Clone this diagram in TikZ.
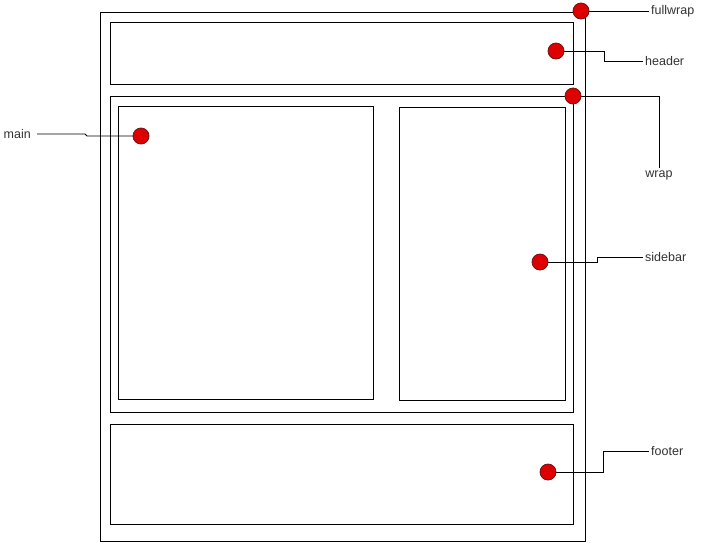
\documentclass[tikz,border=0pt]{standalone}
\usepackage{fontspec}
\setmainfont{Liberation Sans}
\definecolor{pinred}{RGB}{222,0,0}
\definecolor{pinrim}{RGB}{110,20,20}
\definecolor{tagtext}{RGB}{50,50,50}
\usetikzlibrary{backgrounds}
\tikzset{
  pane/.style={draw=black, line width=0.9pt},
  pin/.style={circle, draw=pinrim, line width=0.8pt, fill=pinred,
              minimum size=16pt, inner sep=0pt},
  tag/.style={text=tagtext, font=\fontsize{12.5}{14}\selectfont, inner sep=2pt},
  lead/.style={draw=black, line width=0.9pt},
}
\begin{document}
\begin{tikzpicture}[x=1pt, y=-1pt]
        \useasboundingbox (0,0) rectangle (720,542);
        % ===================== panes =====================
        \draw[pane] (100,12)  rectangle (585,541);
        \draw[pane] (110,22)  rectangle (573,84);
        \draw[pane] (110,96)  rectangle (573,412);
        \draw[pane] (118,106) rectangle (373,399);
        \draw[pane] (399,107) rectangle (565,400);
        \draw[pane] (110,424) rectangle (573,524);
        % ===================== pins =====================
        \node[pin] (fwpin) at (581,11)  {};
        \node[pin] (hdpin) at (556,51)  {};
        \node[pin] (wrpin) at (573,96)  {};
        \node[pin] (mnpin) at (141,136) {};
        \node[pin] (sbpin) at (540,262) {};
        \node[pin] (ftpin) at (548,472) {};
        % ===================== tags =====================
        \node[tag, anchor=west] (fwtag) at (649,11)  {fullwrap};
        \node[tag, anchor=west] (hdtag) at (643,61)  {header};
        \node[tag] (wrtag) at (659,175) {wrap};
        \node[tag, anchor=east, inner xsep=6pt] (mntag) at (37,134) {main};
        \node[tag, anchor=west] (sbtag) at (643,257) {sidebar};
        \node[tag, anchor=west] (fttag) at (649,451) {footer};
        % ===================== leads =====================
        \begin{scope}[on background layer]
          \draw[lead] (fwpin.center) -- (fwtag.west);
          \draw[lead] (hdpin.center) -- ++(48,0) |- (hdtag.west);
          \draw[lead] (wrpin.center) -| (wrtag.north);
          \draw[lead] (mntag.east) -- ++(48,0) -- ++(2,2) -- (mnpin.center);
          \draw[lead] (sbpin.center) -- ++(57,0) |- (sbtag.west);
          \draw[lead] (ftpin.center) -- ++(55,0) |- (fttag.west);
        \end{scope}
      \end{tikzpicture}
\end{document}
